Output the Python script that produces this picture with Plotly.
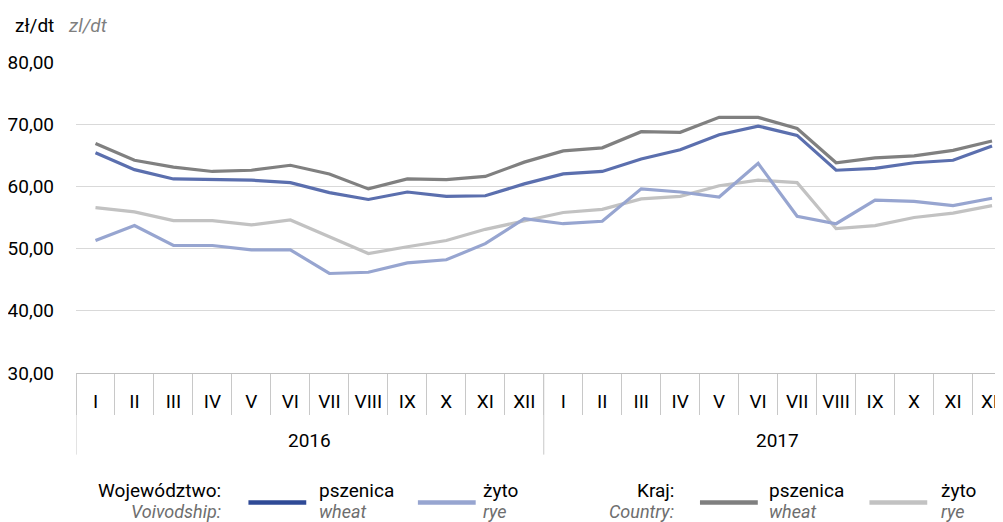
import plotly.graph_objects as go

months = ["I", "II", "III", "IV", "V", "VI", "VII", "VIII", "IX", "X", "XI", "XII"]
years = ["2016", "2017"]

voiv_wheat = [65.4, 62.7, 61.2, 61.1, 61.0, 60.6, 59.0, 57.9, 59.1, 58.4, 58.5, 60.4,
              62.0, 62.4, 64.4, 65.9, 68.3, 69.7, 68.2, 62.6, 62.9, 63.8, 64.2, 66.5]
voiv_rye = [51.3, 53.7, 50.5, 50.5, 49.8, 49.8, 46.0, 46.2, 47.7, 48.2, 50.8, 54.8,
            54.0, 54.4, 59.6, 59.1, 58.3, 63.7, 55.2, 54.0, 57.8, 57.6, 56.9, 58.1]
kraj_wheat = [66.9, 64.2, 63.1, 62.4, 62.6, 63.4, 62.0, 59.6, 61.2, 61.1, 61.6, 63.9,
              65.7, 66.2, 68.8, 68.7, 71.1, 71.1, 69.3, 63.8, 64.6, 64.9, 65.8, 67.3]
kraj_rye = [56.6, 55.9, 54.5, 54.5, 53.8, 54.6, 51.9, 49.2, 50.3, 51.3, 53.1, 54.4,
            55.8, 56.3, 58.0, 58.4, 60.1, 61.0, 60.6, 53.2, 53.7, 55.0, 55.7, 56.9]

n = len(years) * len(months)
xi = list(range(n))
month_labels = months * len(years)

FONT = "Roboto, sans-serif"
OFF = 8  # page body margin
W, H = 1003 - OFF, 522 - OFF
L, R, T = 75 - OFF, 0, 62 - OFF
B = H - (373.3 - OFF)
PW, PH = W - L - R, H - T - B


def px(x):
    return (x - OFF - L) / PW


def py(y):
    return (H - B - (y - OFF)) / PH


fig = go.Figure()
series = [
    (kraj_rye, "#c2c2c2", "Kraj żyto"),
    (kraj_wheat, "#808080", "Kraj pszenica"),
    (voiv_rye, "#97a5d0", "Województwo żyto"),
    (voiv_wheat, "#5b6fae", "Województwo pszenica"),
]
for vals, col, name in series:
    fig.add_trace(go.Scatter(x=xi, y=vals, mode="lines",
                             line=dict(color=col, width=3.2), name=name,
                             showlegend=False, cliponaxis=True))

fig.update_layout(
    width=W, height=H,
    margin=dict(l=L, r=R, t=T, b=B, pad=0),
    paper_bgcolor="white", plot_bgcolor="white",
    separators=",.",
    font=dict(family=FONT, size=19, color="#000000"),
    showlegend=False,
)
fig.update_yaxes(range=[30, 80], dtick=10, tickformat=".2f",
                 showgrid=True, gridcolor="#d9d9d9", gridwidth=1,
                 zeroline=False, showline=False, ticks="",
                 ticklabelstandoff=21,
                 tickfont=dict(family=FONT, size=19, color="#000000"))
fig.update_xaxes(type="linear", range=[-0.5, 23.23],
                 tickmode="array", tickvals=xi, ticktext=month_labels,
                 ticks="", showgrid=False, zeroline=False,
                 showline=True, linecolor="#bfbfbf", linewidth=1,
                 ticklabelstandoff=11, ticklabeloverflow="allow",
                 minor=dict(tick0=-0.5, dtick=1, ticks="outside", ticklen=41,
                            tickcolor="#c8c8c8", tickwidth=1, showgrid=False),
                 tickfont=dict(family=FONT, size=19, color="#000000"))

ann = []
shapes = []
# year level of the category axis
for k, yr in enumerate(years):
    start = k * len(months) - 0.5
    centre = start + len(months) / 2
    ann.append(dict(text=yr, x=centre, xref="x", y=py(441), yref="paper",
                    xanchor="center", yanchor="middle",
                    font=dict(size=19, color="#000000")))
    shapes.append(dict(type="line", xref="x", yref="paper", x0=start, x1=start,
                       y0=0, y1=py(455), line=dict(color="#c8c8c8", width=1)))

ann.append(dict(text="zł/dt", x=px(12), y=py(25), xanchor="left", yanchor="middle",
                font=dict(size=19, color="#000000")))
ann.append(dict(text="<i>zl/dt</i>", x=px(65), y=py(25), xanchor="left", yanchor="middle",
                font=dict(size=19, color="#7f7f7f")))

legend_groups = [
    ("Województwo:", "Voivodship:", 222,
     [(248, 306, "#2f4a96", 317, "pszenica", "wheat"),
      (418, 476, "#97a5d0", 481, "żyto", "rye")]),
    ("Kraj:", "Country:", 677,
     [(701, 759, "#7f7f7f", 768, "pszenica", "wheat"),
      (871, 929, "#c2c2c2", 941, "żyto", "rye")]),
]
for t1, t2, xr, items in legend_groups:
    ann.append(dict(text=t1, x=px(xr), y=py(491), xanchor="right", yanchor="middle",
                    font=dict(size=19, color="#000000")))
    ann.append(dict(text="<i>" + t2 + "</i>", x=px(xr), y=py(512), xanchor="right",
                    yanchor="middle", font=dict(size=18, color="#6e6e6e")))
    for x0, x1, col, xt, a, b in items:
        shapes.append(dict(type="line", xref="paper", yref="paper",
                           x0=px(x0), x1=px(x1), y0=py(503), y1=py(503),
                           line=dict(color=col, width=4.5)))
        ann.append(dict(text=a, x=px(xt), y=py(491), xanchor="left", yanchor="middle",
                        font=dict(size=19, color="#000000")))
        ann.append(dict(text="<i>" + b + "</i>", x=px(xt), y=py(512), xanchor="left",
                        yanchor="middle", font=dict(size=18, color="#6e6e6e")))

for a in ann:
    a.update(showarrow=False)
    a.setdefault("xref", "paper")
    a.setdefault("yref", "paper")
fig.update_layout(annotations=ann, shapes=shapes)

fig.write_html("out.html")
